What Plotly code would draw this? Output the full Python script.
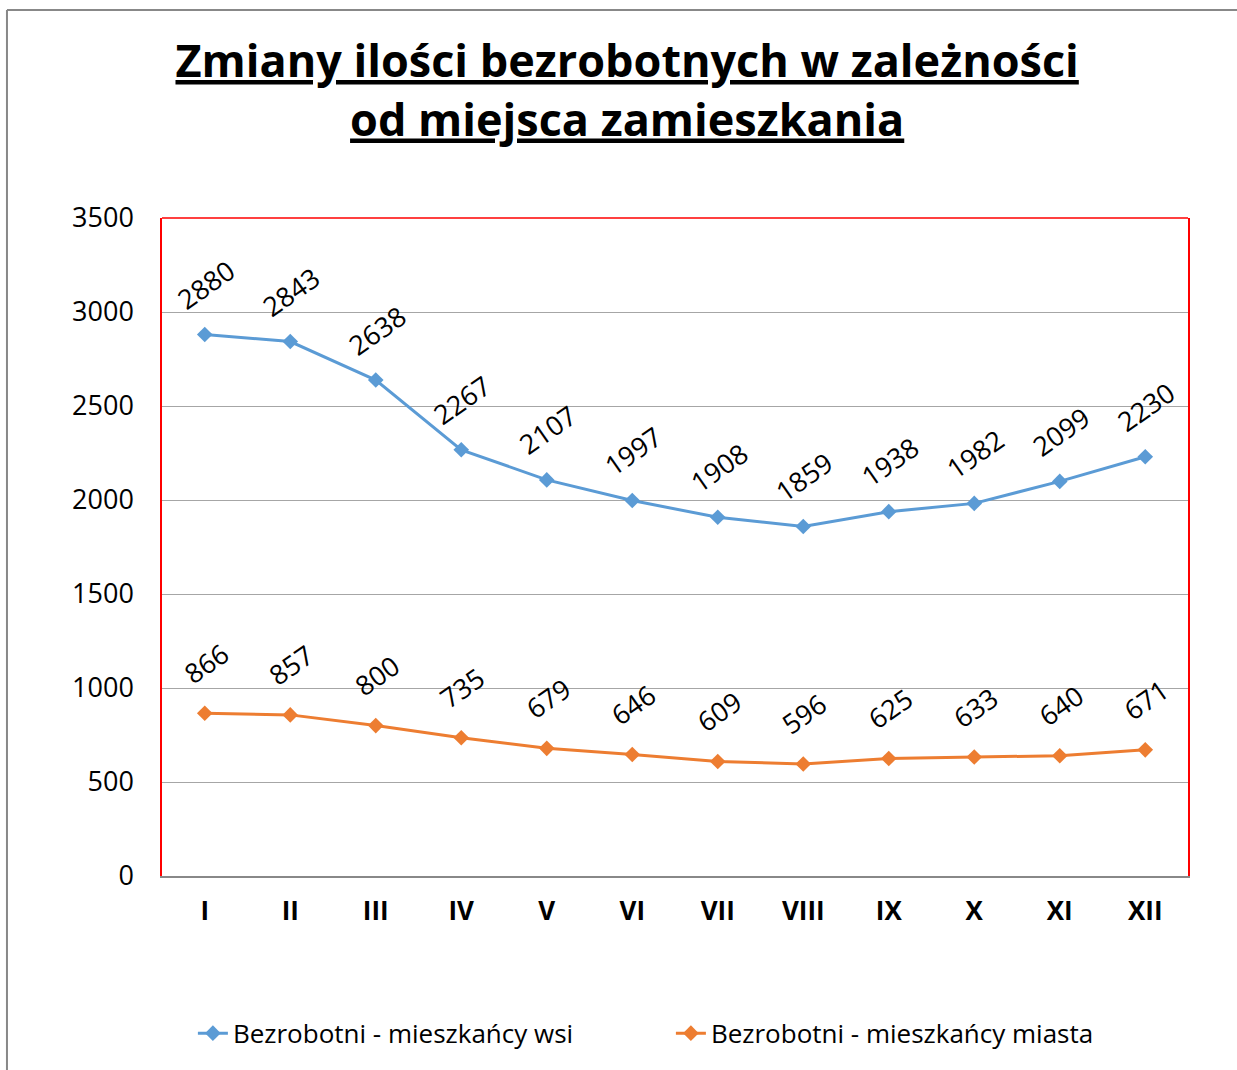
import plotly.graph_objects as go

months = ["I", "II", "III", "IV", "V", "VI", "VII", "VIII", "IX", "X", "XI", "XII"]
wies = [2880, 2843, 2638, 2267, 2107, 1997, 1908, 1859, 1938, 1982, 2099, 2230]
miasto = [866, 857, 800, 735, 679, 646, 609, 596, 625, 633, 640, 671]
series_names = ["Bezrobotni - mieszkańcy wsi", "Bezrobotni - mieszkańcy miasta"]
y_ticks = [0, 500, 1000, 1500, 2000, 2500, 3000, 3500]

BLUE = "#5B9BD5"
ORANGE = "#ED7D31"
FONT = "Open Sans"

fig = go.Figure()
for name, vals, col in [(series_names[0], wies, BLUE), (series_names[1], miasto, ORANGE)]:
    fig.add_trace(go.Scatter(
        x=months, y=vals, name=name, mode="lines+markers",
        line=dict(color=col, width=3),
        marker=dict(symbol="diamond", size=12, color=col),
    ))

annotations = []
for vals in (wies, miasto):
    for m, v in zip(months, vals):
        annotations.append(dict(
            x=m, y=v, xref="x", yref="y", text=str(v), showarrow=False,
            textangle=-35, yshift=50, xshift=1,
            font=dict(family=FONT, size=27, color="#000000"),
        ))

fig.update_layout(
    width=1237, height=1070,
    paper_bgcolor="white", plot_bgcolor="white",
    margin=dict(l=162, r=49, t=218, b=194),
    title=dict(
        text="<u>Zmiany ilości bezrobotnych w zależności</u><br><u>od miejsca zamieszkania</u>",
        x=0.507, xref="container", xanchor="center",
        y=1 - 77 / 1070, yref="container", yanchor="top",
        font=dict(family=FONT, size=45, color="#000000", weight="bold"),
    ),
    font=dict(family=FONT, color="#000000"),
    showlegend=True,
    legend=dict(
        orientation="h", x=0.496, xanchor="center", y=-0.239, yanchor="middle",
        font=dict(family=FONT, size=26, color="#000000"),
        entrywidth=433,
    ),
    annotations=annotations,
    shapes=[
        dict(type="line", xref="paper", yref="paper", x0=0, x1=1, y0=1, y1=1,
             line=dict(color="#FF0000", width=1.5)),
        dict(type="line", xref="paper", yref="paper", x0=-0.1511, x1=-0.1511, y0=1.316, y1=-0.32,
             line=dict(color="#888888", width=2)),
        dict(type="line", xref="paper", yref="paper", x0=-0.1511, x1=1.06, y0=1.316, y1=1.316,
             line=dict(color="#888888", width=2)),
    ],
)

fig.update_xaxes(
    type="category", range=[-0.5, 11.5],
    showgrid=False, showline=True, linecolor="#888888", linewidth=2,
    ticks="", tickfont=dict(family=FONT, size=26, color="#000000", weight="bold"),
    ticklabelstandoff=11,
)
fig.update_yaxes(
    range=[0, 3500], tickvals=y_ticks,
    showgrid=True, gridcolor="#A6A6A6", gridwidth=1,
    showline=True, linecolor="#FF0000", linewidth=1.5, mirror=True,
    zeroline=False, ticks="",
    tickfont=dict(family=FONT, size=27, color="#000000"),
    ticklabelstandoff=21,
)

fig.write_html("out.html", config={"displayModeBar": False},
               post_script="document.body.style.margin='0';document.body.style.padding='0';")
